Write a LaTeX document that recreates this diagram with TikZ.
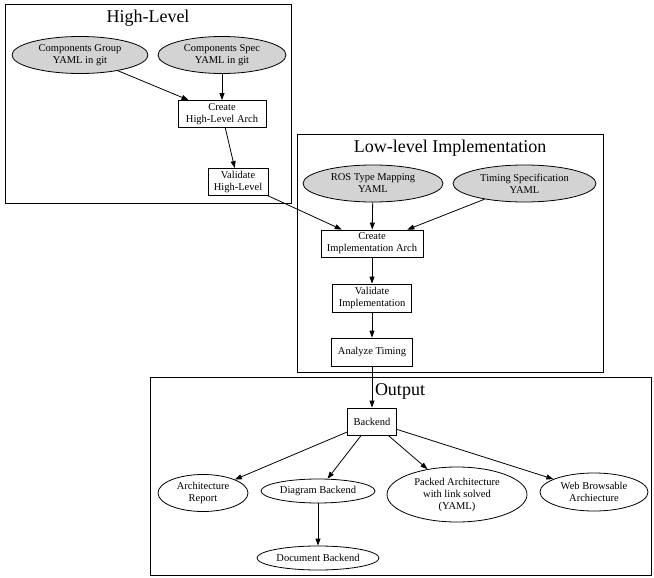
\documentclass[tikz,border=0pt]{standalone}
\usepackage{fontspec}
\setmainfont{Liberation Serif}
\usetikzlibrary{shapes.geometric,arrows.meta}
\definecolor{srcgray}{HTML}{D3D3D3}
\tikzset{
  lbl/.style={font=\fontsize{10.5}{12}\selectfont, align=center},
  box/.style={lbl, draw, line width=0.8pt, rectangle, inner sep=1pt},
  oval/.style={lbl, draw, line width=0.8pt, ellipse, inner sep=0pt},
  srcoval/.style={oval, fill=srcgray},
  cluster/.style={draw, line width=1pt},
  ctitle/.style={font=\fontsize{18}{20}\selectfont, anchor=base},
  flow/.style={-{Triangle[length=7pt,width=5pt]}, line width=0.8pt},
}
\begin{document}
\begin{tikzpicture}[x=1pt, y=-1pt]
  \useasboundingbox (0,0) rectangle (654,578);
  % High-Level
  \draw[cluster] (5,5) rectangle (291,203);
  \node[ctitle] (hltitle) at (148,23) {High-Level};
  \node[srcoval, minimum width=136, minimum height=37] (cg) at (80,55) {Components Group\\YAML in git};
  \node[srcoval, minimum width=128, minimum height=37] (cs) at (222,55) {Components Spec\\YAML in git};
  \node[box, minimum width=88, minimum height=27] (chl) at (222,114) {Create\\High-Level Arch};
  \node[box, minimum width=60, minimum height=27] (vhl) at (238,182) {Validate\\High-Level};
  % Low-level Implementation
  \draw[cluster] (297,134) rectangle (603,372);
  \node[ctitle] (lltitle) at (450,152) {Low-level Implementation};
  \node[srcoval, minimum width=140, minimum height=37] (ros) at (373,183.5) {ROS Type Mapping\\YAML};
  \node[srcoval, minimum width=143, minimum height=37] (tspec) at (524.5,183.5) {Timing Specification\\YAML};
  \node[box, minimum width=102, minimum height=27] (cimpl) at (372,243.5) {Create\\Implementation Arch};
  \node[box, minimum width=79, minimum height=28] (vimpl) at (372,298) {Validate\\Implementation};
  \node[box, minimum width=81, minimum height=28] (atim) at (372,352) {Analyze Timing};
  % Output
  \draw[cluster] (150,377) rectangle (651,575);
  \node[ctitle] (outtitle) at (400,395) {Output};
  \node[box, minimum width=49, minimum height=27] (back) at (372,421.5) {Backend};
  \node[oval, minimum width=90, minimum height=37] (arep) at (203,493) {Architecture\\Report};
  \node[oval, minimum width=114, minimum height=24] (dback) at (318,491) {Diagram Backend};
  \node[oval, minimum width=140, minimum height=55] (packed) at (457,494.5) {Packed Architecture\\with link solved\\(YAML)};
  \node[oval, minimum width=108, minimum height=38] (web) at (594,492) {Web Browsable\\Archiecture};
  \node[oval, minimum width=122, minimum height=24] (doc) at (318,558) {Document Backend};
  % edges
  \draw[flow] (cg) -- (chl);
  \draw[flow] (cs) -- (chl);
  \draw[flow] (chl) -- (vhl);
  \draw[flow] (vhl) -- (cimpl);
  \draw[flow] (ros) -- (cimpl);
  \draw[flow] (tspec) -- (cimpl);
  \draw[flow] (cimpl) -- (vimpl);
  \draw[flow] (vimpl) -- (atim);
  \draw[flow] (atim) -- (back);
  \draw[flow] (back) -- (arep);
  \draw[flow] (back) -- (dback);
  \draw[flow] (back) -- (packed);
  \draw[flow] (back) -- (web);
  \draw[flow] (dback) -- (doc);
\end{tikzpicture}
\end{document}
